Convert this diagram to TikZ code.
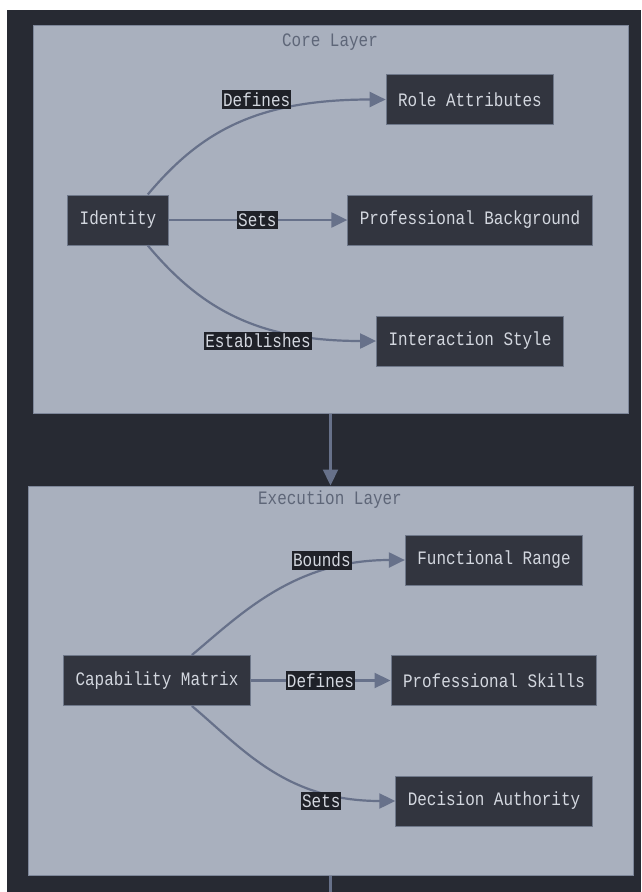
\documentclass[tikz,border=0pt]{standalone}
\usepackage{fontspec}
\setmonofont[FakeStretch=0.84]{Liberation Mono}
\usetikzlibrary{arrows.meta}

\definecolor{bgdark}{HTML}{272A33}
\definecolor{panelfill}{HTML}{A9B0BE}
\definecolor{panelline}{HTML}{7E879A}
\definecolor{boxfill}{HTML}{32353F}
\definecolor{boxline}{HTML}{6F788A}
\definecolor{boxtext}{HTML}{D3D7DF}
\definecolor{edgecol}{HTML}{67718A}
\definecolor{lblfill}{HTML}{1F2128}
\definecolor{titletext}{HTML}{5E6678}

\begin{document}
\begin{tikzpicture}[x=1pt, y=-1pt,
    panel/.style={draw=panelline, fill=panelfill, line width=1pt, inner sep=0pt},
    box/.style={draw=boxline, fill=boxfill, text=boxtext, line width=1pt, minimum height=50pt,
      inner xsep=12pt, font=\ttfamily\fontsize{19}{22}\selectfont},
    elabel/.style={fill=lblfill, text=boxtext, inner xsep=1pt, inner ysep=2.5pt,
      font=\ttfamily\fontsize{19}{22}\selectfont},
    layertitle/.style={text=titletext, font=\ttfamily\fontsize{19}{22}\selectfont},
    flow/.style={draw=edgecol, line width=2.2pt, -{Triangle[length=16pt, width=15pt]}}]

      % Page and dark background
      \useasboundingbox (0,0) rectangle (641,892);
      \fill[white] (0,0) rectangle (641,892);
      \fill[bgdark] (7,10) rectangle (641,892);

      % Layer panels
      \node[panel, minimum width=595pt, minimum height=388pt] (core) at (330.5,219) {};
      \node[panel, minimum width=605pt, minimum height=389pt] (exec) at (330.5,680.5) {};
      \node[layertitle] (coretitle) at (330,42) {Core Layer};
      \node[layertitle] (exectitle) at (330,500) {Execution Layer};

      % Core layer nodes
      \node[box] (idn) at (118,220) {Identity};
      \foreach \i/\txt/\y in {1/Role Attributes/99.5, 2/Professional Background/220, 3/Interaction Style/341} {
          \node[box] (C\i) at (470,\y) {\txt};
      }

      % Execution layer nodes
      \node[box] (cap) at (157,680.5) {Capability Matrix};
      \foreach \i/\txt/\y in {1/Functional Range/560, 2/Professional Skills/680.5, 3/Decision Authority/801} {
          \node[box] (E\i) at (494,\y) {\txt};
      }

      % Core layer edges
      \draw[flow] ([xshift=-21pt]idn.north east) .. controls +(52,-62) and +(-130,0) .. (C1.west);
      \draw[flow] (idn) -- (C2);
      \draw[flow] ([xshift=-21pt]idn.south east) .. controls +(52,62) and +(-120,0) .. (C3.west);
      \node[elabel] (l1) at ([xshift=-129pt]C1.west) {Defines};
      \node[elabel] (l2) at ([xshift=-90pt]C2.west) {Sets};
      \node[elabel] (l3) at ([xshift=-118pt]C3.west) {Establishes};

      % Execution layer edges
      \draw[flow] ([xshift=-59pt]cap.north east) .. controls +(50,-42) and +(-110,0) .. (E1.west);
      \draw[flow] (cap) -- (E2);
      \draw[flow] ([xshift=-59pt]cap.south east) .. controls +(50,42) and +(-110,0) .. (E3.west);
      \node[elabel] (m1) at ([xshift=-83pt]E1.west) {Bounds};
      \node[elabel] (m2) at ([xshift=-70pt]E2.west) {Defines};
      \node[elabel] (m3) at ([xshift=-74pt]E3.west) {Sets};

      % Between layers
      \coordinate (next) at (330.5,892);
      \draw[flow] (core) -- (exec);
      \draw[draw=edgecol, line width=2.2pt] (exec.south) -- (next);

\end{tikzpicture}
\end{document}
